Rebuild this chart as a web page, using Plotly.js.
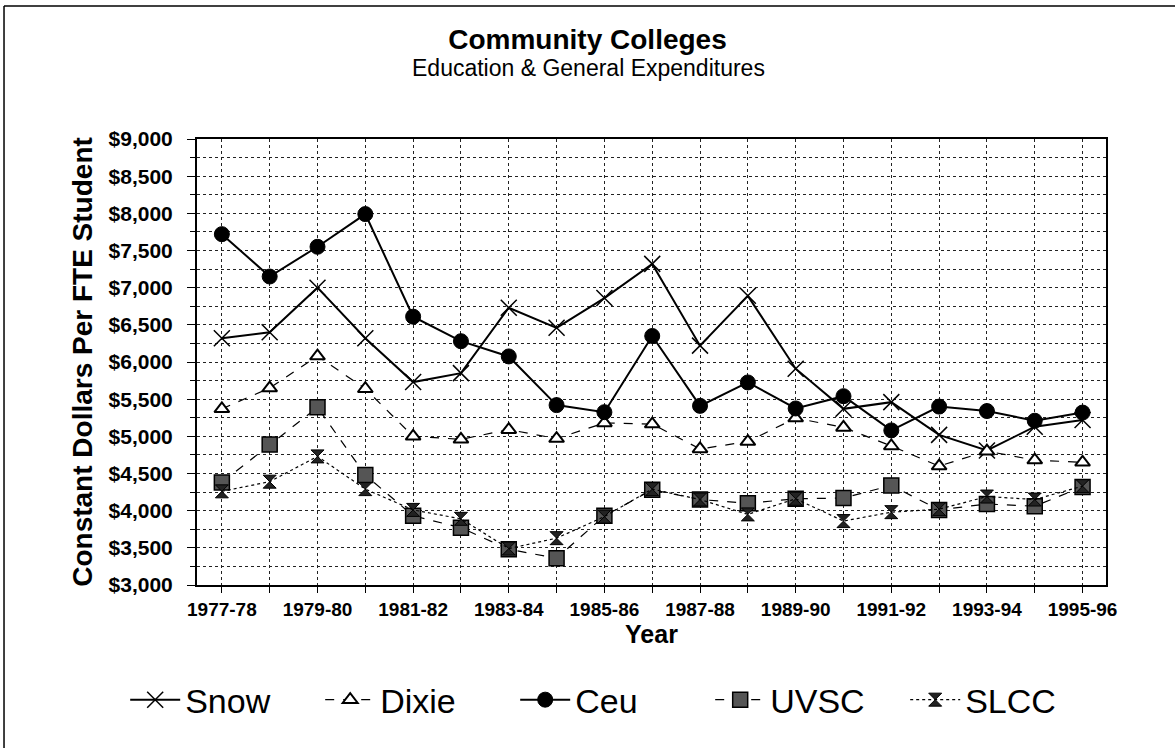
<!DOCTYPE html>
<html>
<head>
<meta charset="utf-8">
<script src="https://cdn.plot.ly/plotly-3.0.1.min.js"></script>
<style>
html,body{margin:0;padding:0;background:#fff;}
#chart{width:1175px;height:748px;}
</style>
</head>
<body>
<div id="chart"></div>
<script>
const years = ["1977-78","1978-79","1979-80","1980-81","1981-82","1982-83","1983-84","1984-85","1985-86","1986-87","1987-88","1988-89","1989-90","1990-91","1991-92","1992-93","1993-94","1994-95","1995-96"];
const snow  = [6320,6400,7000,6320,5730,5850,6730,6460,6860,7320,6220,6890,5910,5370,5460,5020,4810,5130,5220];
const dixie = [5370,5650,6080,5640,5000,4960,5090,4970,5180,5165,4830,4930,5245,5120,4870,4600,4800,4680,4650];
const ceu   = [7720,7150,7550,7990,6610,6280,6075,5420,5325,6350,5410,5725,5375,5540,5080,5400,5340,5210,5320];
const uvsc  = [4380,4890,5390,4480,3930,3770,3480,3360,3930,4280,4150,4100,4160,4170,4340,4010,4090,4060,4320];
const slcc  = [4260,4390,4730,4290,4010,3890,3490,3630,3920,4290,4150,3950,4160,3860,3980,4020,4190,4150,4330];
const tickText = years.map((y,i)=> i%2===0 ? y : "");

const F = "Liberation Sans, Arial, Helvetica, sans-serif";

const traces = [
  {name:"Snow", y:snow, line:{color:"#000",width:2,dash:"solid"},
   marker:{symbol:"x-thin-open",size:16,color:"#000",line:{color:"#000",width:1.5}}},
  {name:"Dixie", y:dixie, line:{color:"#000",width:1.2,dash:"dash"},
   marker:{symbol:"triangle-up",size:13,color:"#fff",line:{color:"#000",width:2}}},
  {name:"Ceu", y:ceu, line:{color:"#000",width:2,dash:"solid"},
   marker:{symbol:"circle",size:15,color:"#000",line:{color:"#000",width:1}}},
  {name:"UVSC", y:uvsc, line:{color:"#000",width:1.2,dash:"dash"},
   marker:{symbol:"square",size:15,color:"#555",line:{color:"#000",width:1.5}}},
  {name:"SLCC", y:slcc, line:{color:"#000",width:1.2,dash:"dot"},
   marker:{symbol:"hourglass",size:13,color:"#222",line:{color:"#000",width:1}}}
].map(t => Object.assign({type:"scatter",mode:"lines+markers",x:years}, t));

const layout = {
  width:1175, height:748,
  paper_bgcolor:"#fff", plot_bgcolor:"#fff",
  margin:{l:197,r:69,t:139,b:163},
  font:{family:F,color:"#000"},
  title:{
    text:"<b>Community Colleges</b>",
    x:0.5, xanchor:"center", yref:"container", y:0.947, yanchor:"middle",
    font:{family:F,size:28,color:"#000"}
  },
  annotations:[
    {text:"Education &amp; General Expenditures", xref:"paper", yref:"paper",
     x:0.5, xanchor:"center", y:1.16, yanchor:"middle", showarrow:false,
     xshift:-63, yshift:0,
     font:{family:F,size:23,color:"#000"}}
  ],
  xaxis:{
    type:"category", range:[-0.52,18.49],
    tickmode:"array", tickvals:years, ticktext:tickText,
    tickfont:{family:F,size:19,color:"#000",weight:"bold"},
    ticks:"outside", ticklen:6, tickcolor:"#000",
    showgrid:true, gridcolor:"#222", gridwidth:1, griddash:"dot",
    showline:true, linecolor:"#000", linewidth:2, mirror:true,
    title:{text:"<b>Year</b>", font:{family:F,size:25,color:"#000"}, standoff:4},
    zeroline:false
  },
  yaxis:{
    range:[3000,9000], dtick:500, tick0:3000,
    tickprefix:"$", tickformat:",d",
    tickfont:{family:F,size:21,color:"#000",weight:"bold"},
    ticks:"outside", ticklen:8, tickcolor:"#000", ticklabelstandoff:10,
    showgrid:true, gridcolor:"#222", gridwidth:1, griddash:"dot",
    minor:{dtick:250, showgrid:true, gridcolor:"#222", gridwidth:1, griddash:"dot", ticks:"outside", ticklen:5, tickcolor:"#000"},
    showline:true, linecolor:"#000", linewidth:2, mirror:true,
    title:{text:"<b>Constant Dollars Per FTE Student</b>", font:{family:F,size:28,color:"#000"}, standoff:8},
    zeroline:false
  },
  showlegend:true,
  legend:{
    orientation:"h", x:-0.079, xanchor:"left", y:-0.258, yanchor:"middle",
    font:{family:F,size:34,color:"#000"},
    itemwidth:50, entrywidth:130, tracegroupgap:0, bgcolor:"rgba(0,0,0,0)"
  },
  shapes:[
    {type:"line", xref:"paper", yref:"paper", x0:-0.2123, x1:-0.2123, y0:1.298, y1:-0.37, line:{color:"#000",width:1.5}},
    {type:"line", xref:"paper", yref:"paper", x0:-0.2123, x1:1.1, y0:1.298, y1:1.298, line:{color:"#000",width:1.5}}
  ]
};

Plotly.newPlot("chart", traces, layout, {displayModeBar:false, staticPlot:true});
</script>
</body>
</html>
